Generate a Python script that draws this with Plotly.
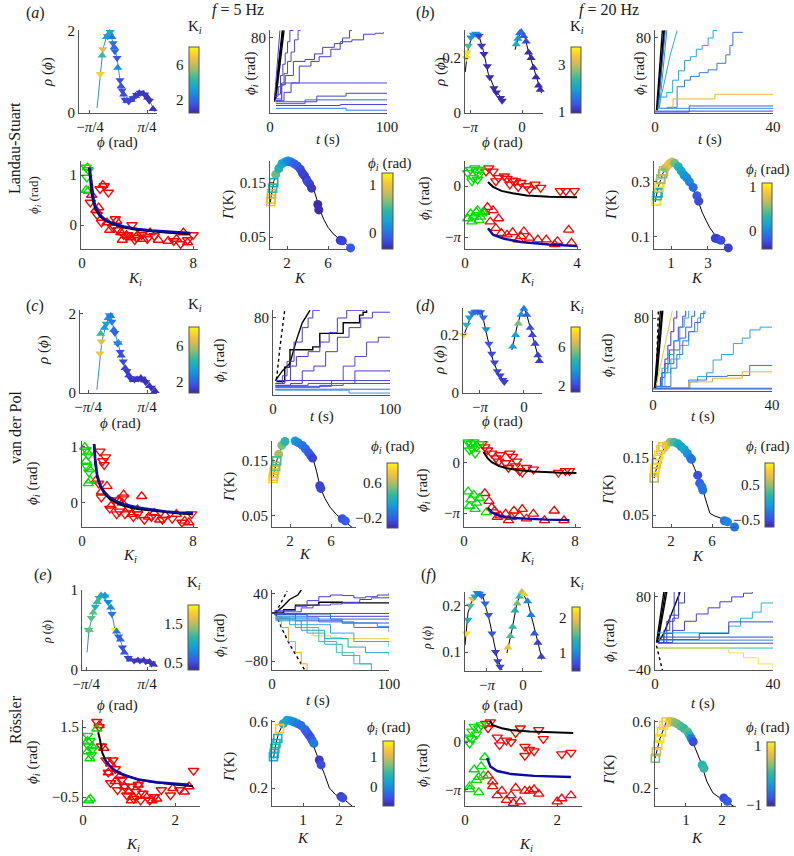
import math
import plotly.graph_objects as go

PI = math.pi

# ================= DATA =================
# ---- (a) Landau-Stuart, f = 5 Hz ----
a_curve_phi = [-0.59, -0.5, -0.43, -0.33, -0.23, -0.15, -0.04, 0.04, 0.1, 0.18, 0.28, 0.4, 0.5, 0.59, 0.7, 0.79, 0.9, 1.0]
a_curve_rho = [0.12, 0.95, 1.55, 1.85, 1.97, 1.7, 1.34, 0.8, 0.55, 0.32, 0.28, 0.36, 0.44, 0.49, 0.47, 0.4, 0.22, 0.03]
a_dn_phi = [-0.5, -0.43, -0.3, -0.23, -0.15, -0.1, -0.04, 0.04, 0.1, 0.18, 0.28, 0.4, 0.5, 0.6, 0.72, 0.85]
a_dn_rho = [0.95, 1.55, 1.87, 1.97, 1.7, 1.5, 1.34, 0.8, 0.55, 0.32, 0.28, 0.36, 0.44, 0.49, 0.45, 0.3]
a_dn_k = [7.2, 6.5, 3.0, 3.3, 2.0, 1.8, 1.6, 1.4, 1.3, 1.2, 1.1, 1.0, 0.9, 0.9, 0.8, 0.8]
a_up_phi = [-0.45, -0.33, -0.25, -0.18, -0.12, -0.02, 0.07, 0.14, 0.23, 0.35, 0.47, 0.57, 0.68, 0.8, 0.95]
a_up_rho = [1.4, 1.85, 1.95, 1.85, 1.6, 1.1, 0.65, 0.45, 0.3, 0.32, 0.42, 0.48, 0.47, 0.38, 0.1]
a_up_k = [4.5, 3.2, 3.5, 2.3, 2.0, 2.8, 1.5, 1.3, 1.2, 1.1, 1.0, 0.9, 0.85, 0.8, 0.8]

a_ts_t = [[4, 7, 10.5], [4, 8, 11], [5, 9, 12], [4, 6, 8.5],
          [4, 7, 9, 11, 13, 15, 17, 20], [5, 9, 12, 15, 18, 21, 24, 26],
          [5, 10, 13, 20, 30, 38, 45, 55, 62, 68, 70],
          [5, 12, 18, 25, 35, 42, 52, 60, 70, 80, 90, 97],
          [5, 10, 100], [5, 40, 65, 100], [5, 30, 100], [5, 60, 100], [5, 65, 100]]
a_ts_phi = [[12, 50, 88], [14, 55, 88], [15, 60, 88], [18, 50, 88],
            [18, 28, 40, 52, 64, 76, 88, 88], [20, 30, 42, 55, 65, 78, 88, 88],
            [13, 30, 40, 55, 57, 63, 70, 74, 80, 88, 88],
            [13, 22, 32, 50, 55, 60, 68, 76, 78, 84, 85, 86],
            [15, 32, 32], [12, 18, 21, 21], [10, 14, 14], [8, 9, 9], [5, 3, 3]]

a_sc_gd_k = [0.3, 0.35, 0.45]
a_sc_gd_phi = [1.15, 0.95, 1.1]
a_sc_gu_k = [0.3, 0.45, 0.4]
a_sc_gu_phi = [0.7, 0.68, 1.15]
a_sc_rd_k = [0.6, 1.3, 1.6, 1.9, 1.1, 1.4, 2.2, 2.6, 3.0, 3.3, 3.6, 3.9, 4.3, 4.7, 5.2, 6.6, 7.1, 7.6, 8.0, 2.4, 3.8]
a_sc_rd_phi = [0.45, 0.72, 0.78, 0.65, 0.2, 0.05, -0.05, -0.1, -0.2, -0.2, 0.0, -0.25, -0.2, -0.28, -0.22, -0.32, -0.38, -0.3, -0.2, 0.12, -0.3]
a_sc_ru_k = [0.7, 1.0, 1.5, 1.8, 2.0, 2.5, 2.8, 3.2, 3.5, 4.0, 4.4, 4.9, 5.5, 6.2, 6.8, 7.3, 7.6, 1.2, 2.9]
a_sc_ru_phi = [0.6, 0.3, 0.8, 0.05, -0.1, 0.08, -0.15, -0.2, -0.25, -0.2, -0.28, -0.15, -0.3, -0.32, -0.28, -0.15, -0.35, 0.35, -0.3]
a_th1_k = [0.5, 0.6, 0.7, 0.85, 1.0, 1.3, 1.7, 2.2, 3.0, 4.0, 5.0, 6.0, 7.0, 7.8]
a_th1_phi = [1.15, 0.85, 0.6, 0.42, 0.3, 0.17, 0.08, 0.02, -0.05, -0.1, -0.13, -0.15, -0.17, -0.18]
a_th2_k = [0.55, 0.7, 0.85, 1.0, 1.3, 1.7, 2.2, 3.0, 4.0, 5.0, 6.0, 7.0, 7.8]
a_th2_phi = [1.15, 0.8, 0.5, 0.35, 0.2, 0.1, 0.04, -0.03, -0.08, -0.11, -0.13, -0.15, -0.16]

a_g_k = [0.35, 0.7, 1.1, 1.6, 2.1, 2.6, 3.0, 3.4, 3.8, 4.2, 4.6, 4.9, 5.2, 5.6, 6.0, 6.5, 7.0, 7.5, 8.2]
a_g_val = [0.112, 0.152, 0.172, 0.186, 0.19, 0.187, 0.181, 0.172, 0.16, 0.15, 0.138, 0.12, 0.1, 0.082, 0.068, 0.056, 0.048, 0.042, 0.03]
a_gc_k = [0.9, 1.2, 1.5, 1.8, 2.1, 2.4, 2.7, 3.0, 3.3, 3.5, 3.7, 3.9, 4.0, 4.2, 4.4, 5.0, 5.1, 7.2, 7.4, 8.2]
a_gc_val = [0.165, 0.176, 0.185, 0.188, 0.19, 0.188, 0.185, 0.181, 0.175, 0.168, 0.163, 0.156, 0.152, 0.148, 0.14, 0.11, 0.1, 0.044, 0.043, 0.03]
a_gc_phi = [0.6, 0.4, 0.3, 0.25, 0.1, 0.05, -0.05, -0.1, -0.15, -0.2, -0.2, -0.25, -0.15, -0.2, -0.25, -0.3, -0.3, -0.25, -0.2, -0.1]
a_gs_k = [0.4, 0.45, 0.5, 0.6, 0.7]
a_gs_val = [0.115, 0.12, 0.13, 0.14, 0.15]
a_gs_phi = [1.0, 0.95, 0.8, 0.5, 0.3]

# ---- (b) Landau-Stuart, f = 20 Hz ----
b_curve1_phi = [-3.44, -3.3, -3.1, -2.9, -2.74, -2.55, -2.35, -2.05, -1.63, -1.15]
b_curve1_rho = [0.149, 0.22, 0.265, 0.285, 0.29, 0.27, 0.229, 0.145, 0.084, 0.047]
b_curve2_phi = [-0.42, -0.25, -0.02, 0.2, 0.36, 0.6, 0.78, 1.0, 1.18]
b_curve2_rho = [0.23, 0.27, 0.30, 0.27, 0.23, 0.185, 0.15, 0.11, 0.072]
b_dn_phi = [-3.38, -3.33, -3.25, -3.1, -2.95, -2.8, -2.7, -2.6, -2.45, -2.3, -2.1, -1.95, -1.7, -1.55, -1.3, -1.2]
b_dn_rho = [0.20, 0.22, 0.245, 0.275, 0.285, 0.288, 0.285, 0.28, 0.245, 0.215, 0.17, 0.13, 0.09, 0.075, 0.055, 0.045]
b_dn_k = [3.5, 3.6, 2.5, 1.9, 1.8, 1.9, 1.7, 1.2, 1.1, 1.0, 1.0, 1.0, 1.0, 1.0, 1.0, 1.0]
b_up_phi = [-0.35, -0.25, -0.15, -0.05, 0.1, 0.25, 0.4, 0.55, 0.7, 0.85, 1.0, 1.1]
b_up_rho = [0.25, 0.27, 0.29, 0.295, 0.28, 0.26, 0.22, 0.2, 0.165, 0.13, 0.1, 0.085]
b_up_k = [2.2, 1.9, 1.6, 1.5, 1.3, 1.2, 1.0, 1.0, 1.0, 1.0, 1.0, 1.0]

b_ts_t = [[0.5, 2.5], [0.8, 3], [1, 3.2], [1, 3.5], [1.5, 4], [1, 3, 5, 7.5],
          [2, 4, 6, 8, 10, 12, 14, 16, 18, 19.7, 21],
          [4, 7.5, 10, 12, 15, 18, 21, 24, 25.4, 26.4, 29.8],
          [1.3, 6.1, 20.3, 40], [0, 11.6, 40], [1.5, 40], [0, 40]]
b_ts_phi = [[3, 88], [3, 88], [5, 88], [5, 88], [5, 88], [4, 30, 60, 88],
            [17, 22, 35, 45, 56, 60, 68, 72, 80, 88, 88],
            [6, 28, 35, 39, 43, 46, 53, 62, 72, 86, 86],
            [5, 15, 20, 20], [1, 7.5, 7.5], [5, 5], [2, 2]]

b_sc_gd_k = [0.1, 0.2, 0.3, 0.4, 0.5, 0.55, 0.25, 0.45, 0.35]
b_sc_gd_phi = [0.8, 1.0, 0.5, 0.9, 0.7, 1.0, 0.3, 0.4, 1.1]
b_sc_gu_k = [0.1, 0.2, 0.3, 0.4, 0.5, 0.6, 0.25, 0.45, 0.55, 0.65]
b_sc_gu_phi = [-2.0, -1.7, -1.9, -1.6, -2.1, -1.7, -2.2, -1.5, -1.9, -1.6]
b_sc_rd_k = [0.75, 0.85, 1.0, 1.2, 1.4, 1.6, 1.7, 1.9, 2.0, 2.2, 2.5, 2.7, 3.4, 3.6, 3.9, 1.1, 1.5, 2.3, 1.8]
b_sc_rd_phi = [0.9, 1.1, 0.9, 0.5, 0.6, 0.1, 0.35, -0.05, 0.2, 0.0, 0.1, -0.1, -0.3, -0.3, -0.3, 0.3, 0.45, -0.2, 0.3]
b_sc_ru_k = [0.7, 0.9, 0.8, 1.0, 1.1, 1.3, 1.5, 1.7, 2.0, 2.1, 2.3, 2.6, 2.9, 3.2, 3.3, 3.7, 3.8, 1.2, 1.9]
b_sc_ru_phi = [-1.6, -2.2, -1.3, -1.5, -2.6, -2.9, -3.0, -2.85, -3.1, -2.8, -3.2, -3.3, -3.3, -3.6, -3.4, -2.7, -3.5, -2.0, -3.3]
b_th1_k = [0.82, 1.0, 1.3, 1.7, 2.2, 3.0, 4.0]
b_th1_phi = [0.25, -0.05, -0.3, -0.45, -0.58, -0.66, -0.7]
b_th2_k = [0.82, 1.0, 1.4, 2.0, 3.0, 4.0]
b_th2_phi = [-2.6, -3.0, -3.25, -3.45, -3.6, -3.7]

b_g_k = [0.14, 0.3, 0.57, 0.84, 1.05, 1.3, 1.65, 1.9, 2.19, 2.45, 2.68, 2.9, 3.1, 3.4, 3.65, 4.1]
b_g_val = [0.227, 0.28, 0.333, 0.36, 0.373, 0.365, 0.333, 0.31, 0.28, 0.235, 0.19, 0.16, 0.133, 0.105, 0.09, 0.06]
b_gc_k = [0.7, 0.85, 0.95, 1.05, 1.2, 1.4, 1.55, 1.7, 1.85, 2.0, 2.2, 2.4, 2.5, 3.4, 3.5, 3.7, 4.1]
b_gc_val = [0.35, 0.362, 0.368, 0.372, 0.368, 0.355, 0.34, 0.325, 0.315, 0.3, 0.28, 0.25, 0.23, 0.095, 0.093, 0.088, 0.06]
b_gc_phi = [0.6, 0.8, 0.85, 0.75, 0.5, 0.3, 0.2, 0.1, 0.05, 0.0, -0.1, -0.2, -0.25, -0.3, -0.3, -0.25, -0.3]
b_gs_k = [0.2, 0.25, 0.3, 0.35, 0.4, 0.45, 0.55, 0.6]
b_gs_val = [0.23, 0.25, 0.26, 0.28, 0.295, 0.31, 0.33, 0.34]
b_gs_phi = [1.0, 0.3, 0.2, 0.9, 1.0, 0.6, 0.5, 0.7]

# ---- (c) van der Pol, f = 5 Hz ----
c_curve_phi = [-0.55, -0.47, -0.42, -0.3, -0.2, -0.07, 0.07, 0.2, 0.3, 0.39, 0.5, 0.6, 0.7, 0.78, 0.9, 1.05]
c_curve_rho = [0.08, 0.9, 1.3, 1.75, 2.0, 1.52, 1.04, 0.63, 0.45, 0.33, 0.34, 0.38, 0.33, 0.25, 0.13, 0.0]
c_dn_phi = [-0.47, -0.43, -0.3, -0.22, -0.15, -0.07, 0.0, 0.07, 0.15, 0.25, 0.35, 0.45, 0.55, 0.65, 0.75, 0.9]
c_dn_rho = [1.0, 1.3, 1.75, 1.97, 1.8, 1.52, 1.25, 1.04, 0.8, 0.55, 0.37, 0.34, 0.37, 0.36, 0.27, 0.13]
c_dn_k = [7.0, 6.5, 3.5, 3.2, 2.5, 2.0, 1.8, 1.6, 1.5, 1.3, 1.2, 1.1, 1.0, 1.0, 1.0, 1.0]
c_up_phi = [-0.45, -0.35, -0.25, -0.18, -0.1, 0.02, 0.1, 0.2, 0.3, 0.42, 0.52, 0.62, 0.72, 0.85, 1.0]
c_up_rho = [1.5, 1.65, 1.9, 1.95, 1.6, 1.27, 0.95, 0.63, 0.45, 0.33, 0.34, 0.38, 0.32, 0.18, 0.05]
c_up_k = [4.5, 3.3, 3.0, 2.5, 2.2, 3.0, 1.6, 1.4, 1.3, 1.2, 1.1, 1.0, 1.0, 1.0, 1.0]

c_ts_t = [[3, 6, 10], [2, 8, 14.5, 20, 25, 31.6],
          [3, 10, 14.5, 34, 40, 51, 60, 74, 77, 80],
          [2, 8, 12, 18, 25, 30, 34, 40], [2, 10, 15, 20, 30, 40, 48, 55, 63, 78],
          [2, 15, 25, 35, 45, 55, 65, 75, 85, 100], [2, 30, 50, 60, 70, 80, 90, 100],
          [2, 40, 60, 70, 100], [2, 100], [2, 50, 100], [2, 100], [2, 65, 100]]
c_ts_phi = [[16, 50, 88], [15, 25, 33, 57, 75, 88],
            [14, 29, 47, 50, 64, 64, 75, 83, 86, 88],
            [12, 20, 35, 55, 70, 80, 88, 88], [12, 15, 30, 40, 45, 55, 65, 80, 88, 88],
            [10, 12, 25, 30, 45, 60, 70, 80, 86, 86], [10, 12, 15, 30, 40, 55, 60, 60],
            [8, 10, 12, 25, 26], [15, 15], [9, 12, 12], [6, 6], [5, 2, 2]]

c_sc_gd_k = [0.3, 0.45, 0.35, 0.5]
c_sc_gd_phi = [0.95, 0.85, 0.65, 0.55]
c_sc_gu_k = [0.2, 0.4, 0.55, 0.3, 0.45, 0.6]
c_sc_gu_phi = [1.0, 0.9, 0.6, 0.75, 0.35, 0.4]
c_sc_rd_k = [1.3, 1.5, 1.7, 1.6, 1.2, 1.4, 2.0, 2.3, 2.7, 3.1, 3.4, 3.7, 4.0, 4.5, 5.0, 5.8, 6.5, 7.2, 7.9, 2.5, 3.0]
c_sc_rd_phi = [0.92, 0.75, 0.82, 0.68, 0.35, 0.1, -0.1, 0.05, -0.15, -0.2, -0.1, -0.25, -0.2, -0.3, -0.25, -0.3, -0.28, -0.35, -0.2, -0.2, 0.1]
c_sc_ru_k = [1.0, 1.4, 1.8, 2.1, 2.6, 3.0, 3.3, 3.6, 4.0, 4.3, 4.8, 5.2, 5.6, 6.0, 6.8, 7.4, 7.7, 2.9]
c_sc_ru_phi = [0.4, 0.2, 0.3, -0.05, 0.05, 0.15, -0.1, -0.2, -0.12, 0.12, -0.25, -0.18, -0.3, -0.22, -0.2, -0.32, -0.35, 0.0]
c_th1_k = [0.85, 0.95, 1.1, 1.3, 1.6, 2.0, 2.5, 3.0, 4.0, 5.0, 6.0, 7.0, 8.0]
c_th1_phi = [1.05, 0.7, 0.45, 0.3, 0.17, 0.07, 0.0, -0.05, -0.11, -0.14, -0.17, -0.19, -0.2]
c_th2_k = [0.9, 0.95, 1.1, 1.3, 1.6, 2.0, 2.5, 3.0, 4.0, 5.0, 6.0, 7.0, 8.0]
c_th2_phi = [1.05, 0.8, 0.5, 0.33, 0.2, 0.1, 0.03, -0.02, -0.08, -0.12, -0.15, -0.17, -0.18]

c_g_k = [0.34, 0.73, 1.32, 2.0, 2.6, 3.17, 3.7, 4.24, 4.6, 4.93, 5.4, 5.9, 6.5, 7.2, 8.15]
c_g_val = [0.12, 0.152, 0.183, 0.188, 0.185, 0.179, 0.168, 0.155, 0.13, 0.103, 0.082, 0.066, 0.053, 0.043, 0.028]
c_gc_k = [0.9, 1.2, 1.5, 1.8, 2.1, 2.5, 2.8, 3.2, 3.5, 3.8, 4.0, 4.2, 4.9, 5.0, 7.1, 7.4, 8.1]
c_gc_val = [0.162, 0.178, 0.185, 0.187, 0.188, 0.186, 0.183, 0.178, 0.172, 0.165, 0.16, 0.155, 0.105, 0.1, 0.045, 0.041, 0.029]
c_gc_phi = [0.6, 0.5, 0.3, 0.2, 0.15, 0.1, 0.0, -0.1, -0.15, -0.2, -0.2, -0.3, -0.3, -0.3, -0.25, -0.2, -0.1]
c_gs_k = [0.35, 0.4, 0.45, 0.5, 0.6, 0.7]
c_gs_val = [0.118, 0.122, 0.128, 0.133, 0.14, 0.15]
c_gs_phi = [0.9, 0.85, 0.8, 0.7, 0.5, 0.4]

# ---- (d) van der Pol, f = 20 Hz ----
d_curve1_phi = [-4.35, -4.0, -3.75, -3.5, -3.0, -2.57, -2.21, -1.86, -1.36]
d_curve1_rho = [0.19, 0.24, 0.27, 0.28, 0.276, 0.183, 0.114, 0.069, 0.038]
d_curve2_phi = [-0.86, -0.5, -0.25, 0.0, 0.2, 0.43, 0.79, 1.14]
d_curve2_rho = [0.148, 0.228, 0.27, 0.293, 0.27, 0.228, 0.172, 0.103]
d_dn_phi = [-4.3, -4.1, -3.9, -3.7, -3.5, -3.3, -3.1, -2.9, -2.7, -2.5, -2.3, -2.1, -1.9, -1.7, -1.5, -1.4]
d_dn_rho = [0.20, 0.235, 0.26, 0.275, 0.28, 0.28, 0.278, 0.26, 0.22, 0.17, 0.135, 0.105, 0.075, 0.06, 0.045, 0.038]
d_dn_k = [7.5, 4.5, 3.8, 3.0, 2.8, 2.6, 2.4, 2.7, 3.5, 2.2, 2.0, 2.0, 2.0, 1.9, 1.9, 1.9]
d_up_phi = [-0.8, -0.6, -0.4, -0.2, 0.0, 0.2, 0.45, 0.6, 0.8, 1.0, 1.1]
d_up_rho = [0.16, 0.2, 0.24, 0.27, 0.29, 0.27, 0.225, 0.2, 0.17, 0.13, 0.11]
d_up_k = [3.8, 4.0, 5.5, 3.5, 3.0, 2.5, 2.2, 2.0, 2.0, 1.9, 1.9]

d_ts_t = [[0.5, 2.5], [0.8, 3], [1, 3.3], [1, 1.8],
          [1, 3, 4, 5, 6, 7, 8], [1, 2.5, 4, 5.5, 7, 8.5, 10, 11],
          [1, 3, 5, 7, 9, 11, 13, 14], [1, 3, 5, 7, 9, 10.5, 12], [1, 4, 6.5],
          [2, 4, 6, 9, 12, 15, 17], [1, 6, 8, 10, 12, 14, 16, 17.5],
          [1, 12.4, 15, 18, 20.2, 23, 27, 30, 32.6, 36, 40],
          [1, 12, 18, 25, 32.5, 40], [4, 12, 20, 30, 40], [0, 40], [0, 40]]
d_ts_phi = [[3, 88], [3, 88], [4, 88], [5, 88],
            [5, 20, 35, 50, 65, 80, 88], [5, 15, 30, 45, 55, 70, 82, 88],
            [5, 20, 30, 45, 58, 70, 82, 88], [5, 25, 40, 55, 70, 80, 88], [5, 50, 88],
            [5, 20, 35, 50, 65, 80, 88], [5, 25, 40, 55, 65, 75, 85, 88],
            [3, 10, 16, 20, 34, 40, 52, 58, 67, 70, 70],
            [3, 12, 16, 17, 28, 28], [3, 10, 14, 21, 21], [3, 3], [2, 2]]

d_sc_gd_k = [0.3, 0.5, 0.7, 0.4, 0.6, 0.9, 1.1, 0.8]
d_sc_gd_phi = [1.3, 1.2, 1.3, 0.8, 0.9, 1.0, 1.2, 0.6]
d_sc_gu_k = [0.3, 0.5, 0.7, 0.9, 1.1, 0.4, 1.6, 0.8]
d_sc_gu_phi = [-1.8, -2.3, -2.0, -2.5, -2.2, -2.7, -3.1, -2.9]
d_sc_rd_k = [1.3, 1.5, 1.7, 2.0, 2.3, 2.6, 3.0, 3.2, 3.5, 3.7, 4.0, 4.2, 3.8, 4.5, 5.0, 6.8, 7.3, 7.6, 2.5, 3.3]
d_sc_rd_phi = [1.2, 1.0, 0.8, 0.6, 0.3, 0.5, 0.0, -0.3, 0.4, -0.2, -0.5, -0.6, 0.1, -0.3, -0.4, -0.6, -0.5, -0.5, 0.1, 0.6]
d_sc_ru_k = [1.5, 1.8, 2.0, 2.2, 2.6, 3.0, 3.4, 3.6, 4.0, 4.2, 4.5, 5.0, 5.8, 6.5, 7.2, 2.4, 3.2]
d_sc_ru_phi = [-1.9, -2.4, -2.8, -3.0, -3.3, -3.2, -3.4, -3.0, -3.3, -2.9, -3.5, -3.2, -3.6, -3.0, -3.6, -3.4, -3.6]
d_th1_k = [1.4, 1.7, 2.0, 2.5, 3.0, 4.0, 5.0, 6.0, 7.0, 8.1]
d_th1_phi = [0.7, 0.3, 0.05, -0.18, -0.32, -0.45, -0.53, -0.58, -0.61, -0.63]
d_th2_k = [1.7, 2.0, 2.5, 3.0, 4.0, 5.0, 6.0, 7.6]
d_th2_phi = [-2.8, -3.1, -3.3, -3.4, -3.48, -3.53, -3.56, -3.59]

d_g_k = [0.34, 0.7, 1.1, 1.5, 1.9, 2.5, 3.0, 3.5, 3.85, 4.3, 4.8, 5.1, 5.5, 5.8, 6.3, 6.8, 7.6, 8.24]
d_g_val = [0.115, 0.14, 0.16, 0.172, 0.178, 0.177, 0.17, 0.16, 0.15, 0.132, 0.106, 0.094, 0.07, 0.053, 0.048, 0.045, 0.038, 0.029]
d_gc_k = [1.5, 1.9, 2.3, 2.7, 3.0, 3.3, 3.6, 3.9, 4.0, 4.6, 4.8, 5.0, 5.1, 7.2, 7.5, 8.2]
d_gc_val = [0.172, 0.178, 0.178, 0.175, 0.17, 0.165, 0.158, 0.15, 0.148, 0.12, 0.106, 0.1, 0.094, 0.04, 0.038, 0.029]
d_gc_phi = [0.8, 0.5, 0.3, 0.1, 0.0, 0.0, -0.1, -0.2, -0.3, -0.5, -0.4, -0.3, -0.3, -0.3, -0.2, -0.3]
d_gs_k = [0.35, 0.4, 0.45, 0.55, 0.65, 0.8, 1.0, 1.2]
d_gs_val = [0.115, 0.125, 0.132, 0.14, 0.148, 0.155, 0.165, 0.17]
d_gs_phi = [0.6, 0.9, 1.0, 0.8, 0.9, 1.0, 0.9, 0.8]

# ---- (e) Roessler, f = 5 Hz ----
e_curve_phi = [-0.76, -0.71, -0.63, -0.55, -0.45, -0.37, -0.22, -0.12, -0.04, 0.09, 0.22, 0.43, 0.6, 0.79, 1.04]
e_curve_rho = [0.22, 0.5, 0.66, 0.79, 0.9, 0.94, 0.84, 0.7, 0.5, 0.375, 0.21, 0.125, 0.12, 0.11, 0.04]
e_dn_phi = [-0.72, -0.65, -0.55, -0.45, -0.37, -0.3, -0.22, -0.12, -0.04, 0.05, 0.15, 0.3, 0.45, 0.6, 0.75, 0.9]
e_dn_rho = [0.5, 0.65, 0.79, 0.9, 0.94, 0.92, 0.85, 0.7, 0.5, 0.42, 0.28, 0.15, 0.12, 0.12, 0.11, 0.08]
e_dn_k = [1.2, 1.3, 1.1, 1.2, 1.9, 1.0, 0.8, 0.7, 2.1, 0.6, 0.5, 0.45, 0.4, 0.4, 0.4, 0.4]
e_up_phi = [-0.7, -0.6, -0.5, -0.4, -0.3, -0.15, 0.0, 0.1, 0.2, 0.35, 0.55, 0.7, 0.85, 0.95]
e_up_rho = [0.5, 0.72, 0.85, 0.93, 0.93, 0.78, 0.48, 0.38, 0.22, 0.13, 0.12, 0.12, 0.1, 0.07]
e_up_k = [1.35, 1.3, 1.2, 1.0, 0.9, 0.8, 0.7, 0.6, 0.55, 0.45, 0.4, 0.4, 0.4, 0.4]

e_ts_t = [[3, 8, 13], [3, 8, 15, 22, 28], [2, 8, 15, 22, 25],
          [0, 10, 20, 40, 60, 100], [2, 20, 30, 40, 50, 60, 70, 80, 90, 100],
          [2, 25, 35, 50, 60, 75, 85, 100], [2, 100], [2, 30, 100], [2, 50, 100], [2, 20, 60, 100],
          [3, 8, 14, 20, 25, 30], [3, 20, 35, 50, 60, 100], [3, 15, 30, 45, 60, 75, 85],
          [3, 20, 40, 55, 70, 85], [3, 25, 45, 65, 80, 100], [3, 30, 50, 70, 100],
          [3, 40, 70, 100], [3, 30, 60, 90, 100]]
e_ts_phi = [[6, 25, 45], [5, -20, -50, -75, -96], [5, 15, 30, 38, 47],
            [6, 12, 20, 25, 24, 24], [10, 18, 28, 35, 38, 37, 33, 35, 38, 42],
            [8, 15, 20, 22, 25, 30, 33, 35], [5, 5], [3, 0, 0], [4, -5, -5], [3, -8, -12, -12],
            [0, -20, -45, -65, -85, -96], [-5, -20, -35, -38, -40, -42], [-3, -15, -30, -50, -70, -85, -96],
            [-5, -20, -45, -65, -85, -96], [-8, -25, -40, -55, -65, -70], [-5, -15, -30, -45, -55],
            [-3, -10, -20, -28], [0, -5, -12, -18, -18]]

e_sc_gd_k = [0.1, 0.15, 0.2, 0.12, 0.18]
e_sc_gd_phi = [1.25, 1.1, 0.85, 0.95, 0.7]
e_sc_gu_k = [0.1, 0.15, 0.2, 0.1, 0.3, 0.12, 0.16]
e_sc_gu_phi = [0.8, 0.6, 0.95, 1.1, 1.45, -0.6, -0.55]
e_sc_rd_k = [0.3, 0.35, 0.4, 0.5, 0.55, 0.6, 0.7, 0.75, 0.85, 0.95, 1.05, 1.1, 1.15, 1.2, 1.3, 1.45, 1.55, 1.7, 1.9, 2.1, 2.4, 0.65, 0.9, 1.25]
e_sc_rd_phi = [1.65, 1.5, 0.95, 0.55, 0.2, -0.1, 0.3, -0.3, 0.0, -0.45, -0.2, -0.55, -0.35, -0.15, -0.4, -0.6, -0.5, -0.3, -0.45, -0.3, 0.25, 0.55, -0.2, -0.6]
e_sc_ru_k = [0.35, 0.45, 0.6, 0.7, 0.8, 0.9, 1.0, 1.1, 1.2, 1.35, 1.5, 1.6, 1.95, 2.2, 2.3, 0.55, 1.05]
e_sc_ru_phi = [1.55, 0.9, 0.45, -0.05, 0.1, -0.2, -0.35, -0.5, -0.15, -0.45, -0.6, -0.55, -0.25, -0.35, -0.2, 0.2, -0.6]
e_th1_k = [0.33, 0.37, 0.42, 0.52, 0.65, 0.8, 1.0, 1.24, 1.5, 1.83, 2.1, 2.39]
e_th1_phi = [1.35, 1.13, 0.76, 0.47, 0.3, 0.19, 0.08, -0.01, -0.07, -0.13, -0.16, -0.19]
e_th2_k = [0.45, 0.52, 0.6, 0.7, 0.8, 1.0, 1.2, 1.6, 2.0, 2.3]
e_th2_phi = [0.62, 0.48, 0.36, 0.25, 0.17, 0.08, 0.0, -0.08, -0.12, -0.15]

e_g_k = [0.18, 0.25, 0.32, 0.44, 0.56, 0.75, 0.92, 1.05, 1.19, 1.32, 1.46, 1.6, 1.73, 1.9, 2.09, 2.36]
e_g_val = [0.38, 0.47, 0.53, 0.585, 0.61, 0.6, 0.58, 0.555, 0.51, 0.44, 0.36, 0.28, 0.2, 0.16, 0.14, 0.09]
e_gc_k = [0.45, 0.55, 0.65, 0.75, 0.85, 0.95, 1.05, 1.1, 1.15, 1.2, 1.25, 1.3, 1.45, 1.5, 2.05, 2.1, 2.4]
e_gc_val = [0.59, 0.61, 0.608, 0.6, 0.59, 0.578, 0.555, 0.54, 0.525, 0.51, 0.49, 0.47, 0.37, 0.34, 0.148, 0.14, 0.09]
e_gc_phi = [0.3, 0.2, 0.1, 0.0, -0.1, -0.2, -0.2, -0.3, -0.3, -0.4, -0.3, -0.1, -0.5, -0.4, -0.5, -0.4, 0.0]
e_gs_k = [0.18, 0.2, 0.22, 0.25, 0.3, 0.35]
e_gs_val = [0.39, 0.41, 0.44, 0.47, 0.5, 0.56]
e_gs_phi = [0.3, 0.2, 0.4, 0.3, 0.35, 1.2]

# ---- (f) Roessler, f = 20 Hz ----
f_curve1_phi = [-5.06, -4.8, -4.4, -4.0, -3.49, -2.88, -2.27, -1.83]
f_curve1_rho = [0.115, 0.185, 0.215, 0.228, 0.22, 0.163, 0.089, 0.061]
f_curve2_phi = [-1.4, -0.96, -0.52, -0.09, 0.44, 0.87, 1.48, 1.75]
f_curve2_rho = [0.098, 0.148, 0.207, 0.23, 0.207, 0.163, 0.104, 0.076]
f_dn_phi = [-4.95, -4.8, -4.6, -4.4, -4.2, -4.0, -3.8, -3.6, -3.3, -3.0, -2.7, -2.4, -2.2, -2.0]
f_dn_rho = [0.14, 0.17, 0.2, 0.215, 0.22, 0.228, 0.226, 0.222, 0.205, 0.18, 0.14, 0.1, 0.08, 0.068]
f_dn_k = [2.2, 1.3, 1.5, 1.9, 1.2, 1.0, 0.9, 0.8, 0.8, 0.7, 0.7, 0.6, 0.6, 0.6]
f_up_phi = [-1.3, -1.1, -0.9, -0.7, -0.5, -0.3, -0.1, 0.1, 0.4, 0.7, 1.0, 1.3, 1.6]
f_up_rho = [0.11, 0.135, 0.155, 0.19, 0.205, 0.22, 0.23, 0.225, 0.21, 0.18, 0.14, 0.12, 0.09]
f_up_k = [2.0, 1.5, 1.4, 1.3, 1.6, 1.4, 1.8, 2.1, 1.0, 0.9, 0.7, 0.6, 0.6]

f_ts_t = [[0.5, 3], [0.8, 3.5], [1, 4], [0.5, 1.5, 2.5], [1, 3, 5, 7, 8.5],
          [1, 4, 6.5], [1, 3, 5, 8], [1, 3, 6, 8, 10],
          [1, 6, 10, 14, 18, 22, 26, 30, 33], [1, 22, 25, 29, 33, 36, 40],
          [1, 15, 25, 40], [1, 40], [1, 40], [1, 40], [1, 40], [1, 20, 25, 30, 35, 40]]
f_ts_phi = [[5, 88], [5, 88], [6, 88], [0, -20, -40], [5, 20, 45, 70, 88],
            [5, 40, 88], [5, 25, 50, 88], [5, 20, 45, 70, 88],
            [5, 25, 40, 52, 62, 72, 80, 86, 88], [21, 21, 32, 45, 55, 70, 72],
            [10, 20, 39, 39], [14, 14], [9, 9], [4, 4], [-4, -4], [-4, -4, -12, -20, -30, -38]]

f_sc_gd_k = [0.1, 0.15, 0.2, 0.3, 0.25, 0.1, 0.35, 0.15]
f_sc_gd_phi = [0.3, 0.7, 1.0, 0.9, 0.5, -0.1, 1.1, 0.2]
f_sc_gu_k = [0.1, 0.2, 0.3, 0.35, 0.25, 0.4, 0.3, 0.1, 0.43]
f_sc_gu_phi = [-2.9, -1.8, -2.3, -1.6, -2.5, -2.2, -3.3, -3.1, -1.0]
f_sc_rd_k = [0.45, 0.5, 0.55, 0.7, 0.9, 1.1, 1.2, 1.3, 1.5, 1.7, 1.3, 2.1, 2.3, 1.0, 1.4, 0.75, 1.6]
f_sc_rd_phi = [1.2, 0.9, 1.3, 0.3, 0.1, 0.6, 0.9, -0.3, -0.6, 0.2, -0.9, -0.8, -0.7, 0.0, -0.5, -0.2, 0.8]
f_sc_ru_k = [0.5, 0.6, 0.7, 0.8, 0.9, 1.0, 1.1, 1.2, 1.3, 1.4, 1.5, 1.6, 2.0, 2.1, 2.3, 0.6, 1.05]
f_sc_ru_phi = [-2.2, -2.9, -3.5, -3.2, -3.8, -3.5, -3.0, -3.9, -3.2, -3.2, -3.1, -3.4, -3.9, -3.7, -3.5, -2.6, -4.0]
f_th1_k = [0.54, 0.6, 0.8, 1.0, 1.4, 1.8, 2.35]
f_th1_phi = [1.4, 1.1, 0.9, 0.78, 0.68, 0.63, 0.59]
f_th2_k = [0.48, 0.55, 0.7, 1.0, 1.5, 2.3]
f_th2_phi = [-1.05, -1.6, -1.9, -2.1, -2.22, -2.29]

f_g_k = [0.14, 0.28, 0.47, 0.75, 1.11, 1.25, 1.39, 1.58, 1.75, 1.94, 2.15, 2.36]
f_g_val = [0.38, 0.5, 0.61, 0.59, 0.52, 0.45, 0.37, 0.24, 0.17, 0.14, 0.11, 0.085]
f_gc_k = [0.55, 0.65, 0.75, 0.85, 0.95, 1.05, 1.1, 1.15, 1.2, 1.45, 1.5, 2.05, 2.15, 2.35]
f_gc_val = [0.605, 0.6, 0.59, 0.575, 0.56, 0.54, 0.52, 0.5, 0.48, 0.34, 0.32, 0.14, 0.12, 0.09]
f_gc_phi = [0.6, 0.4, 0.3, 0.2, 0.1, 0.2, 0.0, -0.5, -0.8, 0.0, 0.1, -0.8, -0.7, -0.9]
f_gs_k = [0.15, 0.18, 0.22, 0.27, 0.32, 0.38, 0.45]
f_gs_val = [0.38, 0.42, 0.46, 0.5, 0.54, 0.58, 0.6]
f_gs_phi = [0.3, 0.6, 0.9, 1.0, 0.9, 1.0, 0.8]

# ================= STYLE =================
a_ts_color = ['#000', '#000', '#000', '#4a3dd2', '#4a3dd2', '#5447d8', '#4a3dd2', '#4a3dd2',
              '#4b4ed8', '#4a3dd2', '#3d5ee0', '#4a3dd2', '#3b74e6']
a_ts_shape = ['linear'] * 4 + ['hv'] * 9
b_ts_color = ['#000', '#000', '#000', '#3d5fd8', '#2d8fe0', '#29b1e0', '#2aa7de', '#3a78e0',
              '#e8b43a', '#3e5cde', '#3a8fe0', '#2d4fd0']
b_ts_shape = ['linear'] * 6 + ['hv'] * 6
c_ts_color = ['#000', '#000', '#000', '#4a3dd2', '#4a3dd2', '#4a3dd2', '#5447d8', '#4a3dd2',
              '#4a3dd2', '#4050d8', '#3d5ee0', '#3a9be0']
c_ts_shape = ['linear', 'linear'] + ['hv'] * 10
c_ts_dash = ['dot'] + ['solid'] * 11
d_ts_color = ['#000', '#000', '#000', '#000', '#3d35c8', '#4a3dd2', '#3a60dc', '#2fa6dd', '#e6c84a',
              '#33b5e5', '#3a74de', '#2fa6dd', '#3a74de', '#e8ae3a', '#3b4fd0', '#3a8fe0']
d_ts_shape = ['linear'] * 4 + ['hv'] * 4 + ['linear'] + ['hv'] * 7
d_ts_dash = ['solid'] * 3 + ['dot'] + ['solid'] * 12
e_ts_color = ['#000', '#000', '#000', '#000', '#4a3dd2', '#4a3dd2', '#3d4fd8', '#4a3dd2', '#3a60dc', '#3d4fd8',
              '#f0a030', '#e8d040', '#30b0d8', '#40c0a0', '#20a8c0', '#40a0e0', '#3c70d8', '#2a90d8']
e_ts_shape = ['linear', 'linear', 'linear'] + ['hv'] * 15
e_ts_dash = ['dot', 'dot'] + ['solid'] * 16
f_ts_color = ['#000', '#000', '#000', '#000', '#000', '#4040d0', '#4a3dd2', '#3a48d0',
              '#4a3dd2', '#2bb0d8', '#3a48d0', '#3050d0', '#3a80e0', '#4040c8', '#30b8c0', '#f0e040']
f_ts_shape = ['linear'] * 5 + ['hv'] * 11
f_ts_dash = ['solid'] * 3 + ['dot'] + ['solid'] * 12

PARULA = [[0.0, '#3e26a8'], [0.125, '#3a52e8'], [0.25, '#1f7fe0'], [0.375, '#15a4d4'],
          [0.5, '#2bb7a6'], [0.625, '#7fbf78'], [0.75, '#d2bb55'], [0.875, '#fbc832'], [1.0, '#f9fb0e']]

FONT = 'Liberation Serif, Times New Roman, serif'
TXT = '#1a1a1a'
AXC = '#555555'
W, H = 794, 856
PHI = '\u03d5'


def fx(p):
    return p / W


def fy(p):
    return 1 - p / H


mpi = '\u2212<i>\u03c0</i>'
pi4 = ([-PI / 4, PI / 4], ['\u2212<i>\u03c0</i>/4', '<i>\u03c0</i>/4'])
pi0 = ([-PI, 0], [mpi, '0'])

# axis boxes in pixels (x0, x1), (y0 top, y1 bottom), ranges, ticks
AXES = {
    'A1': ((79, 157), (30, 113), (-1.088, 1.06), (0, 2.02), pi4, [0, 2]),
    'A2': ((270, 387), (30, 113), (0, 100), (0, 88.5), [0, 100], [80]),
    'B1': ((465, 543), (30, 113), (-3.45, 1.27), (0, 0.302), pi0, [0, 0.2]),
    'B2': ((655, 773), (30, 113), (0, 40), (0, 88.5), [0, 40], [80]),
    'A3': ((81, 198), (161, 249), (-0.07, 8.35), (-0.48, 1.28), [0, 8], [0, 1]),
    'A4': ((270, 352), (161, 249), (0.34, 8.34), (0.028, 0.19), [2, 6], [0.05, 0.15]),
    'B3': ((465, 581), (161, 249), (0, 4.14), (-3.88, 1.54), [0, 4], pi0),
    'B4': ((654, 732), (161, 249), (0.08, 4.3), (0.056, 0.376), [1, 3], [0.1, 0.3]),
    'C1': ((80, 157), (310, 393), (-1.0, 1.05), (0, 2.1), pi4, [0, 2]),
    'C2': ((273, 390), (310, 395), (0, 100), (0, 88.3), [0, 100], [80]),
    'D1': ((463, 542), (308, 393), (-4.35, 1.29), (0, 0.293), pi0, [0, 0.2]),
    'D2': ((653, 772), (310, 391), (0, 40), (0, 88.8), [0, 40], [80]),
    'C3': ((82, 198), (441, 527), (0, 8.36), (-0.43, 1.107), [0, 8], [0, 1]),
    'C4': ((272, 356), (441, 527), (0.24, 8.44), (0.03, 0.186), [2, 6], [0.05, 0.15]),
    'D3': ((464, 581), (441, 527), (0, 8.43), (-4.02, 1.38), [0, 8], pi0),
    'D4': ((653, 736), (441, 527), (0.24, 8.34), (0.029, 0.18), [2, 6], [0.05, 0.15]),
    'E1': ((82, 157), (590, 670), (-0.89, 1.04), (0, 1.0), pi4, [0, 1]),
    'E2': ((272, 389), (590, 670), (0, 100), (-96, 47), [0, 100], [-80, 40]),
    'F1': ((465, 542), (592, 671), (-5.06, 1.66), (0.059, 0.23), pi0, [0.1, 0.2]),
    'F2': ((655, 773), (592, 670), (0, 40), (-40, 88), [0, 40], [-40, 80]),
    'E3': ((83, 200), (720, 806), (0, 2.54), (-0.757, 1.7), [0, 2], [-0.5, 1.5]),
    'E4': ((272, 355), (720, 806), (0.14, 2.44), (0.091, 0.612), [1, 2], [0.2, 0.6]),
    'F3': ((465, 582), (720, 806), (0, 2.54), (-4.19, 1.44), [0, 2], pi0),
    'F4': ((655, 736), (720, 806), (0.14, 2.39), (0.091, 0.612), [1, 2], [0.2, 0.6]),
}
NAMES = list(AXES)
IDX = {n: i + 1 for i, n in enumerate(NAMES)}

KI_T = 'K<sub><i>i</i></sub>'
PHI_T = '<i>' + PHI + '<sub>i</sub></i> (rad)'
CBARS = [
    ((189, 199), (47, 113), 0.5, 8.06, [2, 6], KI_T, (195, 27)),
    ((382, 393), (173, 249), -0.33, 1.25, [0, 1], PHI_T, (390, 164)),
    ((571, 581), (47, 113), 0.96, 3.77, [1, 3], KI_T, (577, 27)),
    ((762, 772), (183, 249), -0.41, 1.09, [0, 1], PHI_T, (768, 170)),
    ((189, 199), (327, 393), 0.78, 8.1, [2, 6], KI_T, (195, 305)),
    ((387, 398), (463, 528), -0.43, 1.06, [-0.2, 0.6], PHI_T, (393, 447)),
    ((571, 580), (327, 392), 1.4, 8.05, [2, 6], KI_T, (577, 307)),
    ((765, 774), (463, 527), -0.7, 1.13, [-0.5, 0.5], PHI_T, (768, 447)),
    ((188, 199), (605, 670), 0.33, 2.0, [0.5, 1.5], KI_T, (194, 583)),
    ((383, 394), (741, 806), -0.63, 1.53, [0, 1], PHI_T, (389, 728)),
    ((572, 580), (607, 671), 0.48, 2.31, [1, 2], KI_T, (577, 583)),
    ((767, 775), (742, 806), -1.03, 1.14, [-1, 1], PHI_T, (768, 728)),
]


def xr(n):
    i = IDX[n]
    return 'x' if i == 1 else f'x{i}'


def yr(n):
    i = IDX[n]
    return 'y' if i == 1 else f'y{i}'


def ca(k):
    return 'coloraxis' if k == 1 else f'coloraxis{k}'


fig = go.Figure()


def add_line(n, x, y, color, width=1.0, dash='solid', shape='linear'):
    fig.add_trace(go.Scatter(x=x, y=y, mode='lines', xaxis=xr(n), yaxis=yr(n),
                             line=dict(color=color, width=width, dash=dash, shape=shape),
                             showlegend=False, hoverinfo='skip'))


def add_pts(n, x, y, symbol, color, size=8, cax=None, lw=0.0):
    m = dict(symbol=symbol, size=size, color=color, line=dict(width=lw))
    if cax is not None:
        m['coloraxis'] = ca(cax)
    if symbol.endswith('open'):
        m['line'] = dict(width=lw if lw else 1.3)
    fig.add_trace(go.Scatter(x=x, y=y, mode='markers', xaxis=xr(n), yaxis=yr(n), marker=m,
                             cliponaxis=False, showlegend=False, hoverinfo='skip'))


def rho_panel(n, cax, segs, dn, up, lcolor):
    for (px_, py_) in segs:
        add_line(n, px_, py_, lcolor, 1.0)
    add_pts(n, dn[0], dn[1], 'triangle-down', dn[2], 8, cax)
    add_pts(n, up[0], up[1], 'triangle-up', up[2], 8, cax)


def ts_panel(n, ts, phis, colors, shapes, dashes=None):
    for i, (t, p) in enumerate(zip(ts, phis)):
        d = dashes[i] if dashes else 'solid'
        w = 1.4 if colors[i] == '#000' else 1.0
        add_line(n, t, p, colors[i], w, d, shapes[i])


def sc_panel(n, gd, gu, rd, ru, th1, th2):
    add_pts(n, rd[0], rd[1], 'triangle-down-open', '#ff0000', 9)
    add_pts(n, ru[0], ru[1], 'triangle-up-open', '#ff0000', 9)
    add_pts(n, gd[0], gd[1], 'triangle-down-open', '#00dd00', 9)
    add_pts(n, gu[0], gu[1], 'triangle-up-open', '#00dd00', 9)
    add_line(n, th1[0], th1[1], '#000000', 2.0)
    add_line(n, th2[0], th2[1], '#0a0aa8', 2.4)


def g_panel(n, cax, curve, circ, sq):
    add_line(n, curve[0], curve[1], '#000000', 1.0)
    add_pts(n, circ[0], circ[1], 'circle', circ[2], 9, cax)
    add_pts(n, sq[0], sq[1], 'square-open', sq[2], 8, cax, 1.6)


# ---- panel (a)
rho_panel('A1', 1, [(a_curve_phi, a_curve_rho)], (a_dn_phi, a_dn_rho, a_dn_k), (a_up_phi, a_up_rho, a_up_k), '#2f8fd6')
ts_panel('A2', a_ts_t, a_ts_phi, a_ts_color, a_ts_shape)
sc_panel('A3', (a_sc_gd_k, a_sc_gd_phi), (a_sc_gu_k, a_sc_gu_phi), (a_sc_rd_k, a_sc_rd_phi),
         (a_sc_ru_k, a_sc_ru_phi), (a_th1_k, a_th1_phi), (a_th2_k, a_th2_phi))
g_panel('A4', 2, (a_g_k, a_g_val), (a_gc_k, a_gc_val, a_gc_phi), (a_gs_k, a_gs_val, a_gs_phi))
# ---- panel (b)
rho_panel('B1', 3, [(b_curve1_phi, b_curve1_rho), (b_curve2_phi, b_curve2_rho)],
          (b_dn_phi, b_dn_rho, b_dn_k), (b_up_phi, b_up_rho, b_up_k), '#000000')
ts_panel('B2', b_ts_t, b_ts_phi, b_ts_color, b_ts_shape)
sc_panel('B3', (b_sc_gd_k, b_sc_gd_phi), (b_sc_gu_k, b_sc_gu_phi), (b_sc_rd_k, b_sc_rd_phi),
         (b_sc_ru_k, b_sc_ru_phi), (b_th1_k, b_th1_phi), (b_th2_k, b_th2_phi))
g_panel('B4', 4, (b_g_k, b_g_val), (b_gc_k, b_gc_val, b_gc_phi), (b_gs_k, b_gs_val, b_gs_phi))
# ---- panel (c)
rho_panel('C1', 5, [(c_curve_phi, c_curve_rho)], (c_dn_phi, c_dn_rho, c_dn_k), (c_up_phi, c_up_rho, c_up_k), '#2f8fd6')
ts_panel('C2', c_ts_t, c_ts_phi, c_ts_color, c_ts_shape, c_ts_dash)
sc_panel('C3', (c_sc_gd_k, c_sc_gd_phi), (c_sc_gu_k, c_sc_gu_phi), (c_sc_rd_k, c_sc_rd_phi),
         (c_sc_ru_k, c_sc_ru_phi), (c_th1_k, c_th1_phi), (c_th2_k, c_th2_phi))
g_panel('C4', 6, (c_g_k, c_g_val), (c_gc_k, c_gc_val, c_gc_phi), (c_gs_k, c_gs_val, c_gs_phi))
# ---- panel (d)
rho_panel('D1', 7, [(d_curve1_phi, d_curve1_rho), (d_curve2_phi, d_curve2_rho)],
          (d_dn_phi, d_dn_rho, d_dn_k), (d_up_phi, d_up_rho, d_up_k), '#000000')
ts_panel('D2', d_ts_t, d_ts_phi, d_ts_color, d_ts_shape, d_ts_dash)
sc_panel('D3', (d_sc_gd_k, d_sc_gd_phi), (d_sc_gu_k, d_sc_gu_phi), (d_sc_rd_k, d_sc_rd_phi),
         (d_sc_ru_k, d_sc_ru_phi), (d_th1_k, d_th1_phi), (d_th2_k, d_th2_phi))
g_panel('D4', 8, (d_g_k, d_g_val), (d_gc_k, d_gc_val, d_gc_phi), (d_gs_k, d_gs_val, d_gs_phi))
# ---- panel (e)
rho_panel('E1', 9, [(e_curve_phi, e_curve_rho)], (e_dn_phi, e_dn_rho, e_dn_k), (e_up_phi, e_up_rho, e_up_k), '#2f8fd6')
ts_panel('E2', e_ts_t, e_ts_phi, e_ts_color, e_ts_shape, e_ts_dash)
sc_panel('E3', (e_sc_gd_k, e_sc_gd_phi), (e_sc_gu_k, e_sc_gu_phi), (e_sc_rd_k, e_sc_rd_phi),
         (e_sc_ru_k, e_sc_ru_phi), (e_th1_k, e_th1_phi), (e_th2_k, e_th2_phi))
g_panel('E4', 10, (e_g_k, e_g_val), (e_gc_k, e_gc_val, e_gc_phi), (e_gs_k, e_gs_val, e_gs_phi))
# ---- panel (f)
rho_panel('F1', 11, [(f_curve1_phi, f_curve1_rho), (f_curve2_phi, f_curve2_rho)],
          (f_dn_phi, f_dn_rho, f_dn_k), (f_up_phi, f_up_rho, f_up_k), '#000000')
ts_panel('F2', f_ts_t, f_ts_phi, f_ts_color, f_ts_shape, f_ts_dash)
sc_panel('F3', (f_sc_gd_k, f_sc_gd_phi), (f_sc_gu_k, f_sc_gu_phi), (f_sc_rd_k, f_sc_rd_phi),
         (f_sc_ru_k, f_sc_ru_phi), (f_th1_k, f_th1_phi), (f_th2_k, f_th2_phi))
g_panel('F4', 12, (f_g_k, f_g_val), (f_gc_k, f_gc_val, f_gc_phi), (f_gs_k, f_gs_val, f_gs_phi))

# ================= LAYOUT =================
layout = dict(width=W, height=H, margin=dict(l=0, r=0, t=0, b=0, pad=0, autoexpand=False),
              paper_bgcolor='white', plot_bgcolor='rgba(0,0,0,0)', showlegend=False,
              font=dict(family=FONT, size=15, color=TXT))


def tick_spec(t):
    if isinstance(t, tuple):
        return dict(tickmode='array', tickvals=t[0], ticktext=t[1])
    return dict(tickmode='array', tickvals=t, ticktext=[('\u2212' + f'{abs(v):g}') if v < 0 else f'{v:g}' for v in t])


for n, (xb, yb, xrg, yrg, xt, yt) in AXES.items():
    i = IDX[n]
    common = dict(showline=True, linecolor=AXC, linewidth=1, ticks='inside', ticklen=3, tickcolor=AXC,
                  showgrid=False, zeroline=False, fixedrange=True, automargin=False,
                  tickfont=dict(family=FONT, size=15, color=TXT))
    xa = dict(common, domain=[fx(xb[0]), fx(xb[1])], range=list(xrg), anchor=yr(n), **tick_spec(xt))
    ya = dict(common, domain=[fy(yb[1]), fy(yb[0])], range=list(yrg), anchor=xr(n), **tick_spec(yt))
    layout['xaxis' if i == 1 else f'xaxis{i}'] = xa
    layout['yaxis' if i == 1 else f'yaxis{i}'] = ya

annotations = []
for k, (cx, cy, cmin, cmax, cticks, ctitle, tpos) in enumerate(CBARS, start=1):
    layout[ca(k)] = dict(colorscale=PARULA, cmin=cmin, cmax=cmax,
                         colorbar=dict(x=fx(cx[0]), xanchor='left', y=fy(cy[1]), yanchor='bottom',
                                       len=(cy[1] - cy[0]) / H, lenmode='fraction',
                                       thickness=cx[1] - cx[0], thicknessmode='pixels',
                                       xpad=0, ypad=0, outlinewidth=1, outlinecolor=AXC,
                                       showticklabels=False, ticks=''))
    for v in cticks:
        ypx = cy[1] - (v - cmin) / (cmax - cmin) * (cy[1] - cy[0])
        lab = ('\u2212' + f'{abs(v):g}') if v < 0 else f'{v:g}'
        annotations.append(dict(text=lab, x=fx(cx[0] - 3), y=fy(ypx), xref='paper', yref='paper',
                                xanchor='right', yanchor='middle', showarrow=False,
                                font=dict(family=FONT, size=15, color=TXT)))
    annotations.append(dict(text=ctitle, x=fx(tpos[0]), y=fy(tpos[1]), xref='paper', yref='paper',
                            xanchor='center', yanchor='middle', showarrow=False,
                            font=dict(family=FONT, size=15, color=TXT)))

RHO = '<i>\u03c1</i> (<i>' + PHI + '</i>)'
PHIR = '<i>' + PHI + '</i> (rad)'
PHII = '<i>' + PHI + '<sub>i</sub></i> (rad)'
TS = '<i>t</i> (s)'
KI = '<i>K<sub>i</sub></i>'
GK = '<i>\u0393</i>(K)'
KK = '<i>K</i>'
TITLES = [
    (RHO, 47, 72, -90, 15), (PHIR, 118, 142, 0, 15), (PHII, 251, 73, -90, 15), (TS, 328, 140, 0, 15),
    (RHO, 440, 72, -90, 15), (PHIR, 503, 142, 0, 15), (PHII, 640, 73, -90, 15), (TS, 710, 140, 0, 15),
    (PHII, 34, 195, -90, 13), (KI, 135, 279, 0, 15), (GK, 228, 205, -90, 15), (KK, 300, 278, 0, 15),
    (PHII, 425, 198, -90, 15), (KI, 527, 279, 0, 15), (GK, 611, 205, -90, 15), (KK, 697, 278, 0, 15),
    (RHO, 43, 350, -90, 15), (PHIR, 120, 423, 0, 15), (PHII, 220, 360, -90, 15), (TS, 322, 416, 0, 15),
    (RHO, 440, 360, -90, 15), (PHIR, 502, 421, 0, 15), (PHII, 608, 355, -90, 15), (TS, 703, 416, 0, 15),
    (PHII, 33, 483, -90, 15), (KI, 130, 556, 0, 15), (GK, 229, 487, -90, 15), (KK, 305, 554, 0, 15),
    (PHII, 423, 490, -90, 15), (KI, 527, 558, 0, 15), (GK, 608, 490, -90, 15), (KK, 698, 556, 0, 15),
    (RHO, 47, 632, -90, 12), (PHIR, 117, 705, 0, 15), (PHII, 220, 635, -90, 15), (TS, 318, 700, 0, 15),
    (RHO, 427, 638, -90, 12), (PHIR, 503, 705, 0, 15), (PHII, 610, 640, -90, 15), (TS, 703, 703, 0, 15),
    (PHII, 33, 762, -90, 15), (KI, 133, 845, 0, 15), (GK, 229, 767, -90, 15), (KK, 303, 838, 0, 15),
    (PHII, 423, 765, -90, 15), (KI, 526, 845, 0, 15), (GK, 609, 770, -90, 15), (KK, 697, 838, 0, 15),
]
for txt, x, y, ang, sz in TITLES:
    annotations.append(dict(text=txt, x=fx(x), y=fy(y), xref='paper', yref='paper', textangle=ang,
                            xanchor='center', yanchor='middle', showarrow=False,
                            font=dict(family=FONT, size=sz, color=TXT)))

LABELS = [
    ('(<i>a</i>)', 35, 13, 0), ('<i>f</i> = 5 Hz', 238, 10, 0), ('(<i>b</i>)', 425, 13, 0),
    ('<i>f</i> = 20 Hz', 609, 10, 0), ('(<i>c</i>)', 35, 306, 0), ('(<i>d</i>)', 425, 306, 0),
    ('(<i>e</i>)', 43, 575, 0), ('(<i>f</i>)', 428, 575, 0),
    ('Landau-Stuart', 15, 148, -90), ('van der Pol', 15, 428, -90), ('R\u00f6ssler', 15, 720, -90),
]
for txt, x, y, ang in LABELS:
    annotations.append(dict(text=txt, x=fx(x), y=fy(y), xref='paper', yref='paper', textangle=ang,
                            xanchor='center', yanchor='middle', showarrow=False,
                            font=dict(family=FONT, size=16, color=TXT)))

layout['annotations'] = annotations
fig.update_layout(**layout)
fig.write_html('out.html', config={'displayModeBar': False, 'staticPlot': True},
               post_script="document.body.style.margin='0';document.body.style.overflow='hidden';")
